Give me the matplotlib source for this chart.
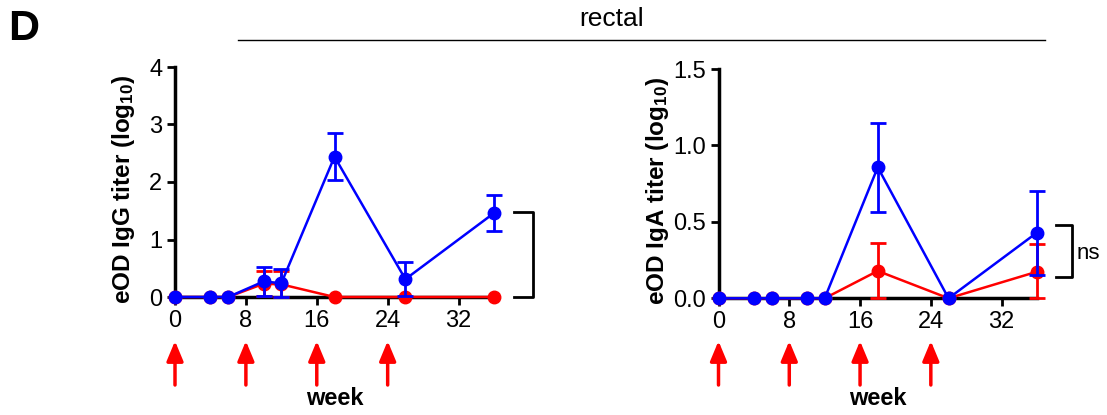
import numpy as np
import matplotlib
matplotlib.use("Agg")
import matplotlib.pyplot as plt
import matplotlib.transforms as mtrans

plt.rcParams['font.family'] = ['Liberation Sans', 'DejaVu Sans']
plt.rcParams['mathtext.fontset'] = 'custom'
plt.rcParams['mathtext.rm'] = 'Liberation Sans:bold'
plt.rcParams['mathtext.bf'] = 'Liberation Sans:bold'
plt.rcParams['mathtext.default'] = 'bf'

# ---- data ----
weeks = [0, 4, 6, 10, 12, 18, 26, 36]
immunization_weeks = [0, 8, 16, 24]
xticks = [0, 8, 16, 24, 32]

igg_blue = [0, 0, 0, 0.27, 0.24, 2.44, 0.31, 1.46]
igg_blue_sem = [0, 0, 0, 0.26, 0.24, 0.41, 0.30, 0.31]
igg_red = [0, 0, 0, 0.23, 0.22, 0, 0, 0]
igg_red_sem = [0, 0, 0, 0.22, 0.23, 0, 0, 0]

iga_blue = [0, 0, 0, 0, 0, 0.857, 0, 0.43]
iga_blue_sem = [0, 0, 0, 0, 0, 0.293, 0, 0.275]
iga_red = [0, 0, 0, 0, 0, 0.179, 0, 0.174]
iga_red_sem = [0, 0, 0, 0, 0, 0.185, 0, 0.18]

W, H = 1107, 415
fig = plt.figure(figsize=(W / 100, H / 100), dpi=100)

def fx(px):
    return px / W

def fy(py):
    return 1 - py / H

ax1 = fig.add_axes([fx(175), fy(297), fx(494 - 175), fy(67) - fy(297)])
ax2 = fig.add_axes([fx(718.5), fy(298.3), fx(1037 - 718.5), fy(69) - fy(298.3)])

def draw_series(ax, y, sem, color):
    y = np.array(y, float)
    sem = np.array(sem, float)
    x = np.array(weeks, float)
    ax.plot(x, y, color=color, lw=1.8, marker='o', ms=9, clip_on=False, zorder=3)
    m = sem > 0
    lower = np.minimum(sem[m], y[m])
    ax.errorbar(x[m], y[m], yerr=[lower, sem[m]], fmt='none', ecolor=color,
                elinewidth=2, capsize=6, capthick=2, clip_on=False, zorder=3)

def style(ax, ylim, yticks, yticklabels, ylabel, label_x):
    ax.set_xlim(0, 36)
    ax.set_ylim(*ylim)
    for s in ['top', 'right']:
        ax.spines[s].set_visible(False)
    for s in ['left', 'bottom']:
        ax.spines[s].set_linewidth(2.5)
    ax.spines['bottom'].set_bounds(0, 36)
    ax.set_xticks(xticks)
    ax.set_xticklabels([str(t) for t in xticks], fontsize=17)
    ax.set_yticks(yticks)
    ax.set_yticklabels(yticklabels, fontsize=17)
    ax.tick_params(axis='both', direction='out', length=6, width=2, pad=3)
    ax.set_ylabel(ylabel, fontsize=17.5, fontweight='bold')
    ax.yaxis.set_label_coords(label_x, 0.47)
    ax.patch.set_visible(False)

draw_series(ax1, igg_red, igg_red_sem, 'red')
draw_series(ax1, igg_blue, igg_blue_sem, 'blue')
style(ax1, (0, 4), [0, 1, 2, 3, 4], ['0', '1', '2', '3', '4'],
      r'eOD IgG titer (log$_{10}$)', -0.12)

draw_series(ax2, iga_red, iga_red_sem, 'red')
draw_series(ax2, iga_blue, iga_blue_sem, 'blue')
style(ax2, (0, 1.5), [0, 0.5, 1.0, 1.5], ['0.0', '0.5', '1.0', '1.5'],
      r'eOD IgA titer (log$_{10}$)', -0.15)

# immunization arrows and week labels
for ax in (ax1, ax2):
    tr = mtrans.blended_transform_factory(ax.transData, fig.transFigure)
    for wk in immunization_weeks:
        ax.annotate('', xy=(wk, fy(341)), xytext=(wk, fy(385)),
                    xycoords=tr, textcoords=tr, annotation_clip=False,
                    arrowprops=dict(arrowstyle='-|>,head_length=1.2,head_width=0.5',
                                    color='red', lw=2.5, shrinkA=0, shrinkB=0))
    ax.text(18, fy(398), 'week', transform=tr, ha='center', va='center',
            fontsize=17, fontweight='bold')

# significance brackets
def bracket(x0px, x1px, y0px, y1px):
    fig.add_artist(plt.Line2D([fx(x0px), fx(x1px), fx(x1px), fx(x0px)],
                              [fy(y0px), fy(y0px), fy(y1px), fy(y1px)],
                              color='black', lw=2, transform=fig.transFigure))

bracket(514, 533, 212, 297)
bracket(1056, 1072, 225, 277)
fig.text(fx(1077), fy(253), 'ns', fontsize=16, ha='left', va='center')

# header
fig.text(fx(24), fy(29), 'D', fontsize=31, fontweight='bold', ha='center', va='center')
fig.text(fx(612), fy(19), 'rectal', fontsize=19, ha='center', va='center')
fig.add_artist(plt.Line2D([fx(238), fx(1045)], [fy(40), fy(40)], color='black',
                          lw=1, transform=fig.transFigure))

fig.savefig('out.png', dpi=100)
